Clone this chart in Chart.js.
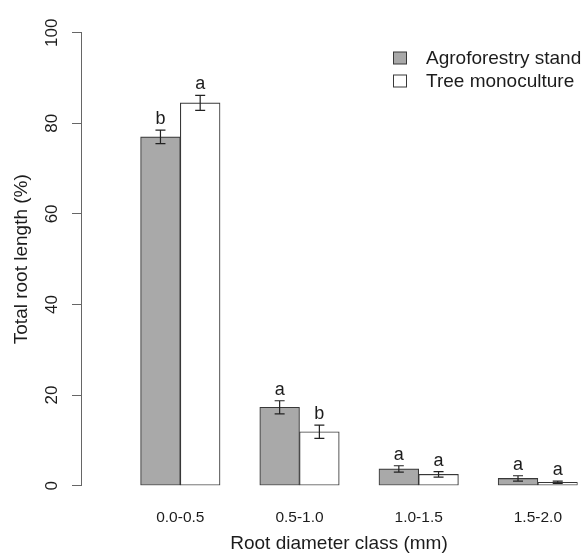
<!DOCTYPE html>
<html>
<head>
<meta charset="utf-8">
<script src="https://cdn.jsdelivr.net/npm/chart.js@4/dist/chart.umd.min.js"></script>
<style>
  html, body { margin: 0; padding: 0; background: #fff; overflow: hidden; }
  #wrap { width: 587px; height: 554px; position: relative; }
</style>
</head>
<body>
<div id="wrap"><canvas id="c"></canvas></div>
<script>
// Root length share (%) per diameter class, mean ± SE, with significance letters
const categories = ['0.0-0.5', '0.5-1.0', '1.0-1.5', '1.5-2.0'];
const seriesNames = ['Agroforestry stand', 'Tree monoculture'];
const agroforestry = [77.0, 17.3, 3.7, 1.6];
const monoculture = [84.5, 11.9, 2.5, 0.75];
const agroforestryErr = [1.5, 1.45, 0.7, 0.6];
const monocultureErr = [1.65, 1.45, 0.6, 0.25];
const agroforestryLetters = ['b', 'a', 'a', 'a'];
const monocultureLetters = ['a', 'b', 'a', 'a'];
const yTicks = [0, 20, 40, 60, 80, 100];

const FONT = '"Liberation Sans", Arial, Helvetica, sans-serif';
const TEXT = '#1c1c1c';
const AXIS = '#666';
const EDGE = '#383838';
const GREY = '#a9a9a9';

// barplot layout: each group = 2 bars of width 1 plus a gap of 1
const barCentre = (i, k) => 3 * i + 1.5 + k;
const groupCentre = i => 3 * i + 2;

const errorBars = {
  id: 'errorBars',
  afterDatasetsDraw(chart) {
    const ctx = chart.ctx;
    const y = chart.scales.y;
    ctx.save();
    chart.data.datasets.forEach((ds, d) => {
      const meta = chart.getDatasetMeta(d);
      meta.data.forEach((bar, i) => {
        const v = ds.data[i].y, e = ds.err[i];
        const top = y.getPixelForValue(v + e);
        const bot = y.getPixelForValue(v - e);
        ctx.strokeStyle = '#222';
        ctx.lineWidth = 1.2;
        ctx.beginPath();
        ctx.moveTo(bar.x, top); ctx.lineTo(bar.x, bot);
        ctx.moveTo(bar.x - 5, top); ctx.lineTo(bar.x + 5, top);
        ctx.moveTo(bar.x - 5, bot); ctx.lineTo(bar.x + 5, bot);
        ctx.stroke();
        ctx.fillStyle = TEXT;
        ctx.font = '18px ' + FONT;
        ctx.textAlign = 'center';
        ctx.textBaseline = 'alphabetic';
        ctx.fillText(ds.letters[i], bar.x, top - 6);
      });
    });
    ctx.restore();
  },
  afterDraw(chart) {
    const ctx = chart.ctx;
    ctx.save();
    // legend
    chart.data.datasets.forEach((ds, d) => {
      const cy = 58 + d * 23;
      ctx.fillStyle = ds.backgroundColor;
      ctx.strokeStyle = EDGE;
      ctx.lineWidth = 1;
      ctx.fillRect(393.5, cy - 6, 13, 12);
      ctx.strokeRect(393.5, cy - 6, 13, 12);
      ctx.fillStyle = TEXT;
      ctx.font = '19px ' + FONT;
      ctx.textAlign = 'left';
      ctx.textBaseline = 'middle';
      ctx.fillText(ds.label, 426, cy + 1);
    });
    // x-axis title, centred on the full barplot region
    ctx.fillStyle = TEXT;
    ctx.font = '19px ' + FONT;
    ctx.textAlign = 'center';
    ctx.textBaseline = 'alphabetic';
    ctx.fillText('Root diameter class (mm)', 339, 548.5);
    ctx.restore();
  }
};

new Chart(document.getElementById('c'), {
  type: 'bar',
  data: {
    datasets: [
      {
        label: seriesNames[0],
        data: agroforestry.map((v, i) => ({ x: barCentre(i, 0), y: v })),
        err: agroforestryErr,
        letters: agroforestryLetters,
        backgroundColor: GREY
      },
      {
        label: seriesNames[1],
        data: monoculture.map((v, i) => ({ x: barCentre(i, 1), y: v })),
        err: monocultureErr,
        letters: monocultureLetters,
        backgroundColor: '#ffffff'
      }
    ]
  },
  options: {
    responsive: true,
    maintainAspectRatio: false,
    animation: false,
    devicePixelRatio: 1,
    layout: { padding: { top: 32.7, right: 9.4, left: 0, bottom: 0 } },
    datasets: {
      bar: {
        grouped: false,
        barPercentage: 1,
        categoryPercentage: 1,
        borderColor: EDGE,
        borderWidth: 1.1,
        borderSkipped: false
      }
    },
    plugins: {
      legend: { display: false },
      tooltip: { enabled: false }
    },
    scales: {
      x: {
        type: 'linear',
        offset: false,
        min: -0.5,
        max: 12,
        afterBuildTicks: s => { s.ticks = categories.map((c, i) => ({ value: groupCentre(i) })); },
        afterFit: s => { s.height = 68.3; },
        ticks: {
          callback: (v, i) => categories[i],
          autoSkip: false,
          maxRotation: 0,
          padding: 22.5,
          color: TEXT,
          font: { family: FONT, size: 15.5 }
        },
        grid: { display: false, drawTicks: false, offset: false },
        border: { display: false }
      },
      y: {
        min: 0,
        max: 100,
        afterBuildTicks: s => { s.ticks = yTicks.map(v => ({ value: v })); },
        afterFit: s => { s.width = 81; },
        ticks: {
          minRotation: 90,
          maxRotation: 90,
          crossAlign: 'center',
          padding: 6,
          color: TEXT,
          font: { family: FONT, size: 17 }
        },
        grid: {
          display: true,
          drawOnChartArea: false,
          drawTicks: true,
          tickLength: 9,
          color: AXIS,
          lineWidth: 1
        },
        border: { display: true, color: AXIS, width: 1 },
        title: {
          display: true,
          text: 'Total root length (%)',
          color: TEXT,
          font: { family: FONT, size: 19 },
          padding: { top: 10.6, bottom: 0 }
        }
      }
    }
  },
  plugins: [errorBars]
});
</script>
</body>
</html>
